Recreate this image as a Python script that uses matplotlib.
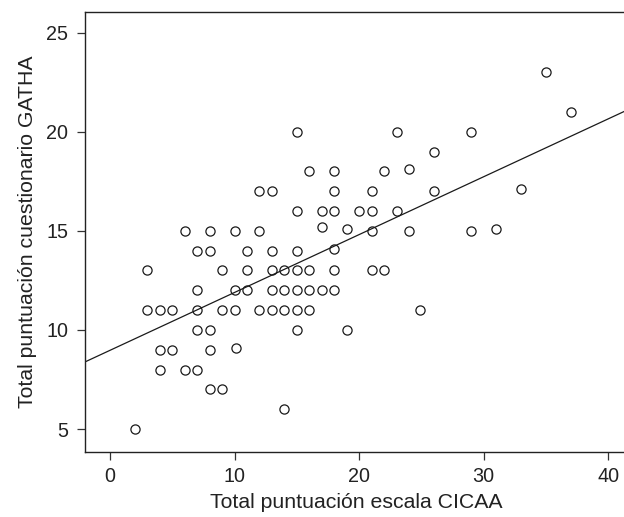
import matplotlib
matplotlib.use("Agg")
import matplotlib.pyplot as plt
import numpy as np

plt.rcParams["font.family"] = ["Liberation Sans", "DejaVu Sans"]

# Puntos (CICAA, GATHA)
cicaa = [2, 3, 3, 4, 5, 4, 5, 4, 6, 7,
         6, 7, 8, 8, 7, 7, 7, 8, 8, 8,
         9, 9, 9, 10, 10, 10, 10.1, 11, 11, 11,
         12, 13, 12, 13, 13, 13, 12, 13, 14, 14,
         14, 14, 15, 15, 15, 15, 15, 15, 15, 16,
         16, 16, 16, 17, 17, 17, 18, 18, 18, 18,
         18, 18, 19, 19, 20, 21, 21, 21, 21, 22,
         22, 23, 23, 24, 24, 24.9, 26, 26, 29, 29,
         31, 33, 35, 37]
gatha = [5, 13, 11, 11, 11, 9, 9, 8, 8, 8,
         15, 14, 14, 15, 12, 11, 10, 10, 9, 7,
         7, 13, 11, 11, 12, 15, 9.1, 14, 13, 12,
         17, 17, 15, 14, 13, 12, 11, 11, 13, 12,
         11, 6, 20, 16, 14, 13, 12, 11, 10, 18,
         13, 12, 11, 16, 15.2, 12, 18, 17, 16, 14.1,
         13, 12, 15.1, 10, 16, 17, 16, 15, 13, 13,
         18, 20, 16, 18.1, 15, 11, 19, 17, 20, 15,
         15.1, 17.1, 23, 21]

# recta de regresion tal como aparece en la figura
fit_intercept = 8.97
fit_slope = 0.292

x_ticks = [0, 10, 20, 30, 40]
y_ticks = [5, 10, 15, 20, 25]

fig = plt.figure(figsize=(6.24, 5.17), dpi=100)
ax = fig.add_axes([84.7 / 624, 1 - 452 / 517, (627 - 84.7) / 624, (452 - 12) / 517])

ax.plot(cicaa, gatha, "o", markerfacecolor="none", markeredgecolor="#1a1a1a",
        markersize=6.6, markeredgewidth=0.9, linestyle="none")

xl = np.array([-3, 45])
ax.plot(xl, fit_intercept + fit_slope * xl, color="#1a1a1a", linewidth=0.9)

ax.set_xlim(-2.03, 41.5)
ax.set_ylim(3.84, 26.04)
ax.set_xticks(x_ticks)
ax.set_yticks(y_ticks)

for s in ax.spines.values():
    s.set_color("#222222")
    s.set_linewidth(1.0)
ax.tick_params(direction="out", length=5.8, width=0.9, color="#333333",
               labelsize=14.2, labelcolor="#222222")
ax.tick_params(axis="x", pad=5.3)
ax.tick_params(axis="y", pad=6)

ax.set_xlabel("Total puntuación escala CICAA", fontsize=15.3, color="#222222", labelpad=5)
ax.set_ylabel("Total puntuación cuestionario GATHA", fontsize=15.3, color="#222222", labelpad=7)

fig.savefig("out.png", dpi=100)
